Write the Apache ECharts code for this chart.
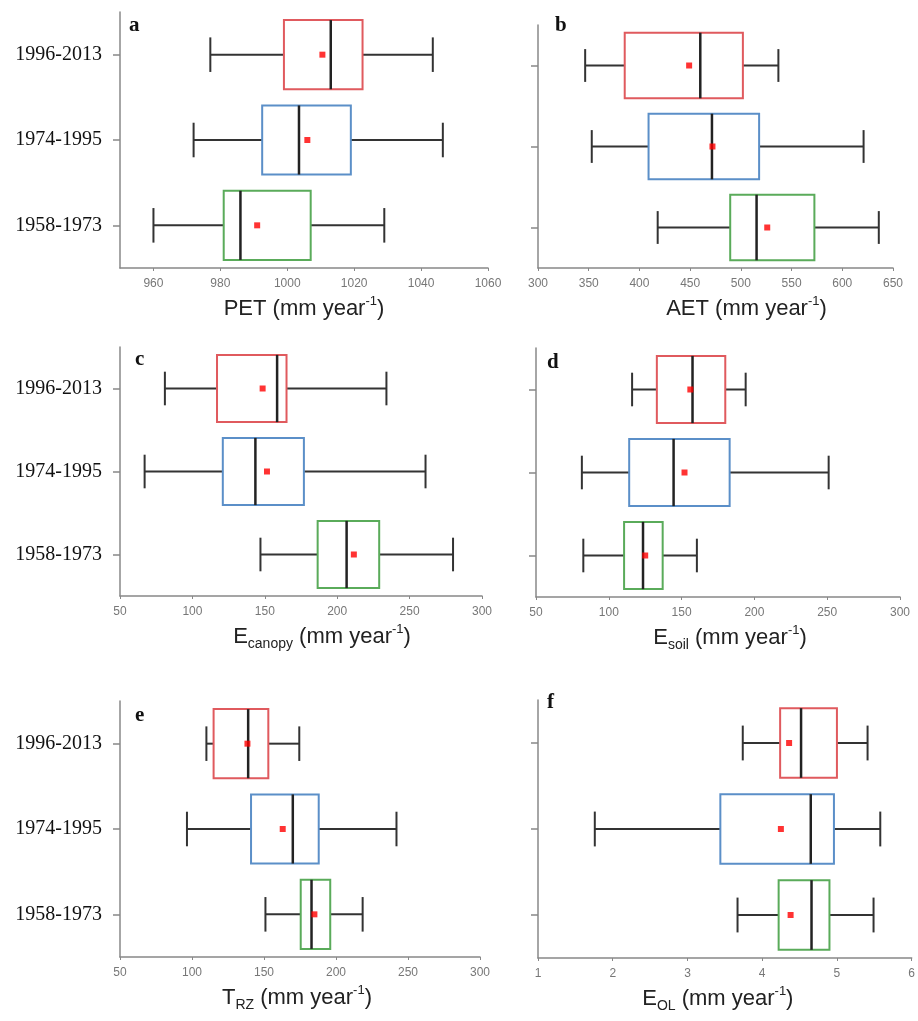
<!DOCTYPE html>
<html>
<head>
<meta charset="utf-8">
<title>Evaporation components by period</title>
<script src="https://cdn.jsdelivr.net/npm/echarts@6.0.0/dist/echarts.min.js"></script>
<style>
  html, body { margin: 0; padding: 0; background: #fff; }
  #chart { width: 918px; height: 1021px; }
</style>
</head>
<body>
<div id="chart"></div>
<script>
// periods, bottom to top
const periods = ['1958-1973', '1974-1995', '1996-2013']

// [low whisker, q1, median, q3, high whisker] per period
const petBox = [[960, 981, 986, 1007, 1029], [972, 992.5, 1003.5, 1019, 1046.5], [977, 999, 1013, 1022.5, 1043.5]]
const petMean = [991, 1006, 1010.5]
const petTicks = [960, 980, 1000, 1020, 1040, 1060]

const aetBox = [[418, 489.5, 515.5, 572.5, 636], [353, 409, 471.5, 518, 621], [346.5, 385.5, 460, 502, 537]]
const aetMean = [526, 472, 449]
const aetTicks = [300, 350, 400, 450, 500, 550, 600, 650]

const canopyBox = [[147, 186.5, 206.5, 229, 280], [67, 121, 143.5, 177, 261], [81, 117, 158.5, 165, 234]]
const canopyMean = [211.5, 151.5, 148.5]
const canopyTicks = [50, 100, 150, 200, 250, 300]

const soilBox = [[82.5, 110.5, 123.5, 137, 160.5], [81.5, 114, 144.5, 183, 251], [116, 133, 157.5, 180, 194]]
const soilMean = [125, 152, 156]
const soilTicks = [50, 100, 150, 200, 250, 300]

const trzBox = [[151, 175.5, 183, 196, 218.5], [96.5, 141, 170, 188, 242], [110, 115, 139, 153, 174.5]]
const trzMean = [185, 163, 138.5]
const trzTicks = [50, 100, 150, 200, 250, 300]

const eolBox = [[3.67, 4.22, 4.66, 4.9, 5.49], [1.76, 3.44, 4.65, 4.96, 5.58], [3.74, 4.24, 4.52, 5.0, 5.41]]
const eolMean = [4.38, 4.25, 4.36]
const eolTicks = [1, 2, 3, 4, 5, 6]

const boxColors = ['#5aab5a', '#5b8fc8', '#e05a5e']

// panel setup: data + where it sits
const panels = [
  { letter: 'a', box: petBox, mean: petMean, ticks: petTicks, min: 950, max: 1060, labels: true,
    name: '{t|PET (mm year}{sup|-1}{t|)}', shift: 0,
    grid: { left: 120, top: 12, width: 368, height: 256 }, letterPos: [129, 15] },
  { letter: 'b', box: aetBox, mean: aetMean, ticks: aetTicks, min: 300, max: 650, labels: false,
    name: '{t|AET (mm year}{sup|-1}{t|)}', shift: 31,
    grid: { left: 538, top: 25, width: 355, height: 243 }, letterPos: [555, 15] },
  { letter: 'c', box: canopyBox, mean: canopyMean, ticks: canopyTicks, min: 50, max: 300, labels: true,
    name: '{t|E}{sub|canopy}{t| (mm year}{sup|-1}{t|)}', shift: 21,
    grid: { left: 120, top: 347, width: 362, height: 249 }, letterPos: [135, 349] },
  { letter: 'd', box: soilBox, mean: soilMean, ticks: soilTicks, min: 50, max: 300, labels: false,
    name: '{t|E}{sub|soil}{t| (mm year}{sup|-1}{t|)}', shift: 12,
    grid: { left: 536, top: 348, width: 364, height: 249 }, letterPos: [547, 352] },
  { letter: 'e', box: trzBox, mean: trzMean, ticks: trzTicks, min: 50, max: 300, labels: true,
    name: '{t|T}{sub|RZ}{t| (mm year}{sup|-1}{t|)}', shift: -3,
    grid: { left: 120, top: 701, width: 360, height: 256 }, letterPos: [135, 705] },
  { letter: 'f', box: eolBox, mean: eolMean, ticks: eolTicks, min: 1, max: 6, labels: false,
    name: '{t|E}{sub|OL}{t| (mm year}{sup|-1}{t|)}', shift: -7,
    grid: { left: 538, top: 700, width: 376, height: 258 }, letterPos: [547, 692] }
]

// box with black whiskers and coloured outline
function renderBox(params, api) {
  const cat = api.value(0)
  const pLow = api.coord([api.value(1), cat])
  const pQ1 = api.coord([api.value(2), cat])
  const pMed = api.coord([api.value(3), cat])
  const pQ3 = api.coord([api.value(4), cat])
  const pHigh = api.coord([api.value(5), cat])
  const band = api.size([0, 1])[1]
  const half = band * 0.405
  const cap = half / 2
  const y = pMed[1]
  const black = { stroke: '#333', lineWidth: 2 }
  return {
    type: 'group',
    children: [
      { type: 'line', shape: { x1: pLow[0], y1: y, x2: pQ1[0], y2: y }, style: black },
      { type: 'line', shape: { x1: pQ3[0], y1: y, x2: pHigh[0], y2: y }, style: black },
      { type: 'line', shape: { x1: pLow[0], y1: y - cap, x2: pLow[0], y2: y + cap }, style: black },
      { type: 'line', shape: { x1: pHigh[0], y1: y - cap, x2: pHigh[0], y2: y + cap }, style: black },
      { type: 'rect', shape: { x: pQ1[0], y: y - half, width: pQ3[0] - pQ1[0], height: half * 2 },
        style: { fill: '#fff', stroke: boxColors[cat], lineWidth: 2 } },
      { type: 'line', shape: { x1: pMed[0], y1: y - half, x2: pMed[0], y2: y + half },
        style: { stroke: '#222', lineWidth: 2.5 } }
    ]
  }
}

const grid = [], xAxis = [], yAxis = [], series = [], graphic = []
panels.forEach((p, i) => {
  grid.push(p.grid)
  xAxis.push({
    type: 'value', gridIndex: i, min: p.min, max: p.max,
    splitLine: { show: false },
    axisLine: { show: true, lineStyle: { color: '#888', width: 1.5 } },
    axisTick: { show: true, length: 3, customValues: p.ticks, lineStyle: { color: '#888' } },
    axisLabel: { customValues: p.ticks, color: '#777', fontSize: 12, fontFamily: 'Liberation Sans', margin: 10,
      formatter: v => String(v) },
    name: p.name, nameLocation: 'middle', nameGap: 27,
    nameTextStyle: {
      color: '#222', fontFamily: 'Liberation Sans',
      padding: p.shift >= 0 ? [0, 0, 0, p.shift * 2] : [0, -p.shift * 2, 0, 0],
      rich: {
        t: { fontSize: 22, lineHeight: 28, fontFamily: 'Liberation Sans', color: '#222' },
        sup: { fontSize: 13, lineHeight: 27, verticalAlign: 'top', fontFamily: 'Liberation Sans', color: '#222' },
        sub: { fontSize: 14, lineHeight: 12, verticalAlign: 'bottom', fontFamily: 'Liberation Sans', color: '#222' }
      }
    }
  })
  yAxis.push({
    type: 'category', gridIndex: i, data: periods,
    axisLine: { show: true, lineStyle: { color: '#888', width: 1.5 } },
    axisTick: { show: true, alignWithLabel: true, length: 7, lineStyle: { color: '#888', width: 1.5 } },
    axisLabel: { show: p.labels, color: '#111', fontSize: 20, fontFamily: 'Liberation Serif', margin: 18 }
  })
  series.push({
    type: 'custom', xAxisIndex: i, yAxisIndex: i, clip: false,
    data: p.box.map((s, k) => [k].concat(s)),
    encode: { x: [1, 2, 3, 4, 5], y: 0 },
    renderItem: renderBox
  })
  series.push({
    type: 'scatter', xAxisIndex: i, yAxisIndex: i, z: 10,
    symbol: 'rect', symbolSize: 6,
    itemStyle: { color: '#ff0000' },
    data: p.mean.map((m, k) => [m, k])
  })
  graphic.push({
    type: 'text', left: p.letterPos[0], top: p.letterPos[1],
    style: { text: p.letter, font: 'bold 21px "Liberation Serif"', fill: '#111' }
  })
})

const chart = echarts.init(document.getElementById('chart'))
chart.setOption({
  animation: false,
  backgroundColor: '#fff',
  grid, xAxis, yAxis, series, graphic
})
</script>
</body>
</html>
